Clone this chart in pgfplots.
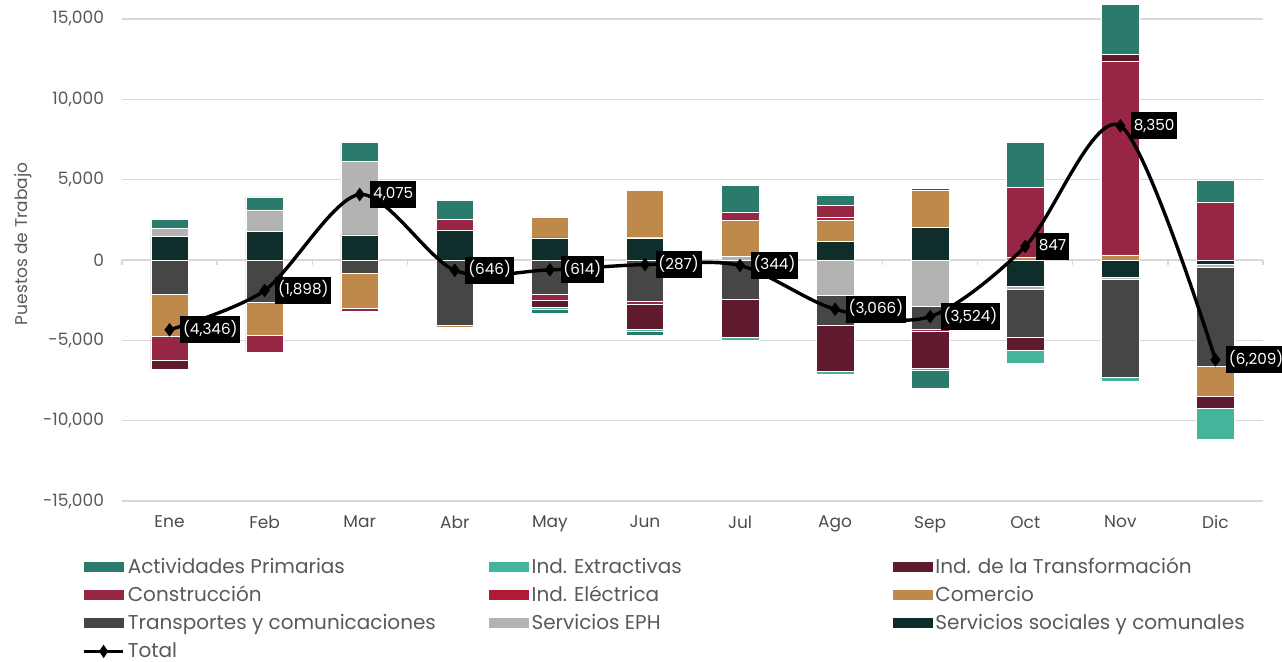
\documentclass[border=0pt]{standalone}
\usepackage{fontspec}
\setmainfont{Poppins}
\usepackage{pgfplots}
\usepackage{pgfplotstable}
\pgfplotsset{compat=1.18}

\definecolor{cACT}{HTML}{2A7B6B}
\definecolor{cEXT}{HTML}{46B49A}
\definecolor{cTRF}{HTML}{601A2D}
\definecolor{cCON}{HTML}{962644}
\definecolor{cELE}{HTML}{B01A33}
\definecolor{cCOM}{HTML}{BE894B}
\definecolor{cTR}{HTML}{464646}
\definecolor{cEPH}{HTML}{B3B3B3}
\definecolor{cSS}{HTML}{0F2E2B}
\definecolor{cGrid}{HTML}{D9D9D9}
\definecolor{cTxt}{HTML}{595959}

% saldo mensual por sector (negativo = perdida de puestos)
\pgfplotstableread{
i SS EPH TR COM ELE CON TRF EXT ACT
0 1475 500 -2116 -2645 0 -1456 -579 -60 535
1 1785 1325 -2632 -2035 0 -1091 0 -60 810
2 1556 4580 -852 -2134 0 -210 0 -50 1185
3 1867 0 -4036 -150 0 666 -40 -110 1157
4 1370 0 -2130 1288 40 -392 -398 -162 -230
5 1370 30 -2555 2945 40 -187 -1575 -145 -210
6 0 224 -2416 2240 0 523 -2383 -187 1655
7 1140 -2197 -1892 1350 143 747 -2813 -210 666
8 2010 -2905 -1390 2302 150 -168 -2260 -168 -1095
9 -1618 -187 -3031 170 0 4331 -809 -809 2800
10 -1100 -125 -6070 311 0 12072 436 -270 3096
11 -290 -187 -6144 -1848 0 3610 -747 -1929 1326
}\sectores

\pgfplotstableread{
i total lab
0 -4346 (4,346)
1 -1898 (1,898)
2 4075 4,075
3 -646 (646)
4 -614 (614)
5 -287 (287)
6 -344 (344)
7 -3066 (3,066)
8 -3524 (3,524)
9 847 847
10 8350 8,350
11 -6209 (6,209)
}\totales

\pgfplotsset{
  base/.style={scale only axis, width=570.5pt, height=250.5pt,
    xmin=-0.5, xmax=11.5, ymin=-15000, ymax=16180, enlargelimits=false,
    at={(0,0)}, anchor=south west},
  seg/.style={fill=#1, draw=white, line width=0.25pt},
  sw/.style={legend image code/.code={\fill[#1] (0pt,-2.25pt) rectangle (19.5pt,2.25pt);}},
}
\newcommand{\lt}[1]{\makebox[180.5pt][l]{#1}}

\begin{document}
\begin{tikzpicture}
% ejes, rejilla, leyenda y parte negativa
\begin{axis}[base, ybar stacked, bar width=18.75pt,
  axis line style={draw=none}, tick style={draw=none},
  ytick={-15000,-10000,...,15000}, ymajorgrids,
  grid style={color=cGrid, line width=0.6pt},
  xtick={0,...,11},
  xticklabels={Ene,Feb,Mar,Abr,May,Jun,Jul,Ago,Sep,Oct,Nov,Dic},
  scaled y ticks=false,
  /pgf/number format/assume math mode=true,
  yticklabel style={/pgf/number format/1000 sep={,}, xshift=-5.5pt},
  xticklabel style={yshift=-4pt, text=black!70},
  ticklabel style={font=\fontsize{8.5}{10}\selectfont, text=cTxt},
  ylabel={Puestos de Trabajo},
  every axis y label/.style={at={(axis description cs:-0.0868,0.513)}, rotate=90,
    anchor=center, font=\fontsize{8.5}{10}\selectfont, text=cTxt},
  legend columns=3, legend cell align=left,
  legend style={at={(axis description cs:0,0)}, anchor=north west,
    xshift=-20pt, yshift=-29pt, draw=none, fill=none, inner sep=0pt,
    row sep=6pt, font=\fontsize{10}{11}\selectfont, text=cTxt,
    nodes={inner sep=0pt, text height=7pt, text depth=1pt},
    /tikz/every odd column/.append style={column sep=1.5pt}},
]
\addlegendimage{sw=cACT}\addlegendentry{\lt{Actividades Primarias}}
\addlegendimage{sw=cEXT}\addlegendentry{\lt{Ind. Extractivas}}
\addlegendimage{sw=cTRF}\addlegendentry{\lt{Ind. de la Transformación}}
\addlegendimage{sw=cCON}\addlegendentry{\lt{Construcción}}
\addlegendimage{sw=cELE}\addlegendentry{\lt{Ind. Eléctrica}}
\addlegendimage{sw=cCOM}\addlegendentry{\lt{Comercio}}
\addlegendimage{sw=cTR}\addlegendentry{\lt{Transportes y comunicaciones}}
\addlegendimage{sw=cEPH}\addlegendentry{\lt{Servicios EPH}}
\addlegendimage{sw=cSS}\addlegendentry{\lt{Servicios sociales y comunales}}
\addlegendimage{legend image code/.code={
  \draw[black, line width=1.7pt] (0pt,0pt) -- (19.5pt,0pt);
  \fill[black] (9.75pt,3pt) -- (11.75pt,0pt) -- (9.75pt,-3pt) -- (7.75pt,0pt) -- cycle;}}
\addlegendentry{Total}
\addplot[seg=cSS]  table[x=i, y expr={min(\thisrow{SS},0)}]  {\sectores};
\addplot[seg=cEPH] table[x=i, y expr={min(\thisrow{EPH},0)}] {\sectores};
\addplot[seg=cTR]  table[x=i, y expr={min(\thisrow{TR},0)}]  {\sectores};
\addplot[seg=cCOM] table[x=i, y expr={min(\thisrow{COM},0)}] {\sectores};
\addplot[seg=cELE] table[x=i, y expr={min(\thisrow{ELE},0)}] {\sectores};
\addplot[seg=cCON] table[x=i, y expr={min(\thisrow{CON},0)}] {\sectores};
\addplot[seg=cTRF] table[x=i, y expr={min(\thisrow{TRF},0)}] {\sectores};
\addplot[seg=cEXT] table[x=i, y expr={min(\thisrow{EXT},0)}] {\sectores};
\addplot[seg=cACT] table[x=i, y expr={min(\thisrow{ACT},0)}] {\sectores};
\end{axis}
% parte positiva y linea del cero
\begin{axis}[base, ybar stacked, bar width=18.75pt,
  axis x line=middle, axis y line=none,
  axis line style={cGrid, line width=0.6pt, -},
  xtick={-0.5,0.5,...,11.5}, xticklabels={},
  tick align=outside, major tick length=2.5pt,
  tick style={cGrid, line width=0.6pt}, ytick=\empty,
]
\addplot[seg=cSS]  table[x=i, y expr={max(\thisrow{SS},0)}]  {\sectores};
\addplot[seg=cEPH] table[x=i, y expr={max(\thisrow{EPH},0)}] {\sectores};
\addplot[seg=cTR]  table[x=i, y expr={max(\thisrow{TR},0)}]  {\sectores};
\addplot[seg=cCOM] table[x=i, y expr={max(\thisrow{COM},0)}] {\sectores};
\addplot[seg=cELE] table[x=i, y expr={max(\thisrow{ELE},0)}] {\sectores};
\addplot[seg=cCON] table[x=i, y expr={max(\thisrow{CON},0)}] {\sectores};
\addplot[seg=cTRF] table[x=i, y expr={max(\thisrow{TRF},0)}] {\sectores};
\addplot[seg=cEXT] table[x=i, y expr={max(\thisrow{EXT},0)}] {\sectores};
\addplot[seg=cACT] table[x=i, y expr={max(\thisrow{ACT},0)}] {\sectores};
\end{axis}
% total
\begin{axis}[base, hide axis, clip=false]
\addplot[black, line width=1.7pt, smooth, mark=diamond*, mark size=2pt,
  nodes near coords, point meta=explicit symbolic,
  every node near coord/.style={anchor=west, xshift=4.5pt, fill=black, text=white,
    font=\fontsize{7.6}{9}\selectfont, inner xsep=1.4pt, inner ysep=2.7pt,
    text height=6.3pt, text depth=1.8pt}]
  table[x=i, y=total, meta=lab] {\totales};
\end{axis}
\pgfresetboundingbox
\path (-61pt,-80.5pt) rectangle (580pt,250.5pt);
\end{tikzpicture}
\end{document}
